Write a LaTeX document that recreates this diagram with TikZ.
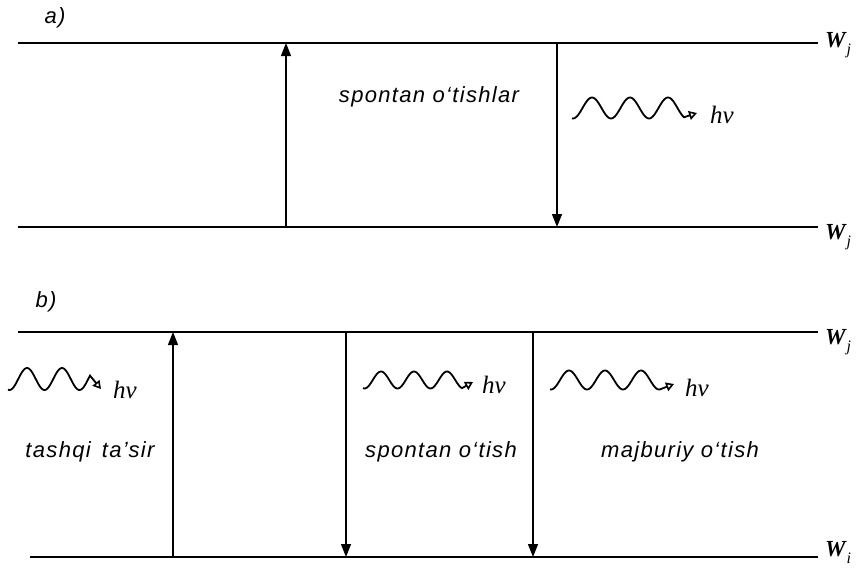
\documentclass[tikz,border=0pt]{standalone}
\usepackage{fontspec}
\setmainfont{Liberation Sans}
\newfontfamily\labfont[LetterSpace=6]{Liberation Sans}
\newfontfamily\serfont{Liberation Serif}
\usetikzlibrary{arrows.meta}
\newcommand\lvlname[1]{{\bfseries W}\kern1pt\raisebox{-7pt}{\fontsize{16}{16}\selectfont #1}}
\begin{document}
\begin{tikzpicture}[x=1pt,y=-1pt,
  level/.style={line width=2.2pt},
  trans/.style={line width=1.4pt,-{Triangle[length=13pt,width=10pt]}},
  lab/.style={font=\labfont\itshape\fontsize{22}{26}\selectfont},
  hvlab/.style={font=\serfont\itshape\fontsize{25}{28}\selectfont},
  wlab/.style={font=\serfont\itshape\fontsize{23}{26}\selectfont, anchor=west, inner sep=0pt},
  wave/.style={line width=1.8pt, -{Triangle[open,length=8pt,width=9pt,line width=1.6pt]}}]
\useasboundingbox (0,0) rectangle (859,570);

% ---------------- a) ----------------
\node[lab] (la) at (55,18) {a)};
\coordinate (a1L) at (18,43);  \coordinate (a1R) at (818,43);
\coordinate (a0L) at (18,227); \coordinate (a0R) at (818,227);
\draw[level] (a1L) -- (a1R);
\draw[level] (a0L) -- (a0R);
\node[wlab] (wa1) at (825,45) {\lvlname{j}};
\node[wlab] (wa0) at (825,237) {\lvlname{j}};
\coordinate (aupB) at (286,227); \coordinate (aupT) at (286,43);
\coordinate (adnT) at (557,43);  \coordinate (adnB) at (557,227);
\draw[trans] (aupB) -- (aupT);
\draw[trans] (adnT) -- (adnB);
\node[lab] (spa) at (429,97) {spontan o‘tishlar};
\draw[wave] plot[domain=572:684, samples=90, smooth] (\x, {108 - 10.5*cos((\x-592)/38*360)}) -- (697,113);
\node[hvlab] (hva) at (722,115) {hv};

% ---------------- b) ----------------
\node[lab] (lb) at (46,302) {b)};
\coordinate (b1L) at (18,332); \coordinate (b1R) at (818,332);
\coordinate (b0L) at (30,557); \coordinate (b0R) at (818,557);
\draw[level] (b1L) -- (b1R);
\draw[level] (b0L) -- (b0R);
\node[wlab] (wb1) at (825,342) {\lvlname{j}};
\node[wlab] (wb0) at (825,552) {\lvlname{i}};
\coordinate (bupB) at (173,557); \coordinate (bupT) at (173,332);
\coordinate (bd1T) at (346,332); \coordinate (bd1B) at (346,557);
\coordinate (bd2T) at (533,332); \coordinate (bd2B) at (533,557);
\draw[trans] (bupB) -- (bupT);
\draw[trans] (bd1T) -- (bd1B);
\draw[trans] (bd2T) -- (bd2B);

\draw[wave] plot[domain=8:90, samples=80, smooth] (\x, {379 - 11*cos((\x-27)/35*360)}) -- (101,389);
\node[hvlab] (hvb1) at (125,390) {hv};
\node[lab] (tash) at (90,452) {tashqi\, ta’sir};

\draw[wave] plot[domain=363:462, samples=80, smooth] (\x, {380 - 8.5*cos((\x-381)/33*360)}) -- (473,382);
\node[hvlab] (hvb2) at (494,385) {hv};
\node[lab] (spb) at (441,452) {spontan o‘tish};

\draw[wave] plot[domain=550:660, samples=80, smooth] (\x, {380 - 9.5*cos((\x-569)/36*360)}) -- (674,384);
\node[hvlab] (hvb3) at (697,388) {hv};
\node[lab] (maj) at (680,452) {majburiy o‘tish};
\end{tikzpicture}
\end{document}
